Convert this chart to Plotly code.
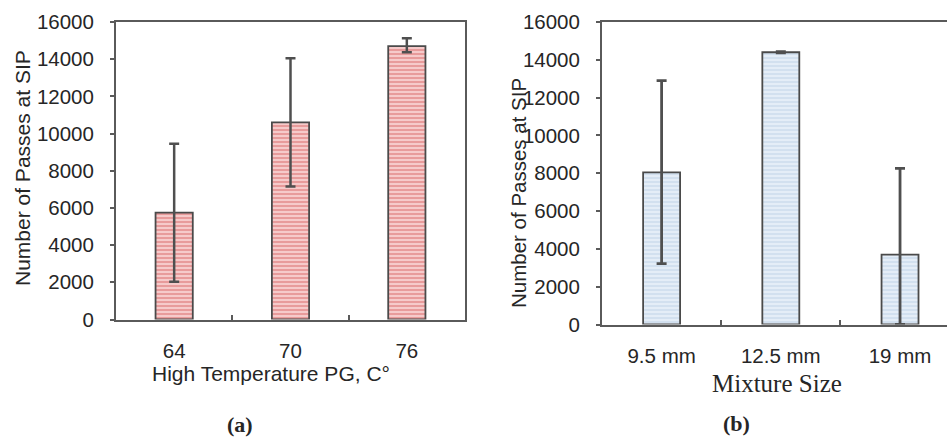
import plotly.graph_objects as go

# ---- data ----
pg_categories = ["64", "70", "76"]
pg_values = [5750, 10600, 14700]
pg_err_plus = [3700, 3450, 420]
pg_err_minus = [3720, 3450, 330]

mix_categories = ["9.5 mm", "12.5 mm", "19 mm"]
mix_values = [8050, 14400, 3700]
mix_err_plus = [4850, 30, 4560]
mix_err_minus = [4830, 30, 3700]

y_ticks = [0, 2000, 4000, 6000, 8000, 10000, 12000, 14000, 16000]
y_tick_labels = [str(v) for v in y_ticks]

W, H = 947, 439
AX = "#5a5a5a"
TXT = "#262626"
SANS = "Liberation Sans, Arial, sans-serif"
SERIF = "Liberation Serif, Times New Roman, serif"

fig = go.Figure()

fig.add_trace(go.Bar(
    x=pg_categories, y=pg_values, width=0.32,
    marker=dict(color="#e99d9d", line=dict(color="#4a4a4a", width=1.8),
                pattern=dict(shape="-", bgcolor="#e89b9b", fgcolor="#f8d0d0",
                             size=4, solidity=0.45, fillmode="replace")),
    error_y=dict(type="data", array=pg_err_plus, arrayminus=pg_err_minus,
                 color="#4f4f4f", thickness=2.5, width=5),
    xaxis="x", yaxis="y", showlegend=False))

fig.add_trace(go.Bar(
    x=mix_categories, y=mix_values, width=0.31,
    marker=dict(color="#d4e2f1", line=dict(color="#4a4a4a", width=1.8),
                pattern=dict(shape="-", bgcolor="#d2e0ef", fgcolor="#e9f1fa",
                             size=4, solidity=0.4, fillmode="replace")),
    error_y=dict(type="data", array=mix_err_plus, arrayminus=mix_err_minus,
                 color="#4f4f4f", thickness=2.8, width=5),
    xaxis="x2", yaxis="y2", showlegend=False))

tickfont = dict(family=SANS, size=20.5, color=TXT)

def px_x(p):
    return p / W

def px_y(p):
    return 1 - p / H

common_y = dict(range=[0, 16000], tickmode="array", tickvals=y_ticks, ticktext=y_tick_labels,
                showgrid=False, zeroline=False, automargin=False,
                showline=True, linecolor=AX, linewidth=2, ticks="outside", ticklen=4,
                tickwidth=1.5, tickcolor=AX,
                tickfont=tickfont, ticklabelstandoff=12)
common_x = dict(type="category", showgrid=False, zeroline=False, showline=True, automargin=False,
                linecolor=AX, linewidth=2, ticks="inside", tickson="boundaries",
                ticklen=5, tickwidth=2, tickcolor=AX, tickfont=tickfont,
                ticklabelstandoff=12)

fig.update_layout(
    width=W, height=H,
    margin=dict(l=0, r=0, t=0, b=0, autoexpand=False),
    paper_bgcolor="white", plot_bgcolor="white",
    xaxis=dict(domain=[px_x(116), px_x(465)], anchor="y", mirror=True,
               range=[-0.5, 2.5], **common_x),
    yaxis=dict(domain=[px_y(319.5), px_y(22)], anchor="x", mirror=True, **common_y),
    xaxis2=dict(domain=[px_x(602), 1.0], anchor="y2", mirror=True,
                range=[-0.5, 2.394], **common_x),
    yaxis2=dict(domain=[px_y(324.5), px_y(22)], anchor="x2", mirror=False, **common_y),
)

ann = []
ann.append(dict(text="Number of Passes at SIP", x=px_x(22), y=px_y(168), xref="paper", yref="paper",
                textangle=-90, showarrow=False, xanchor="center", yanchor="middle",
                font=dict(family=SANS, size=21, color=TXT)))
ann.append(dict(text="Number of Passes at SIP", x=px_x(518), y=px_y(193), xref="paper", yref="paper",
                textangle=-90, showarrow=False, xanchor="center", yanchor="middle",
                font=dict(family=SANS, size=20.5, color=TXT)))
ann.append(dict(text="High Temperature PG, C°", x=px_x(271), y=px_y(373), xref="paper", yref="paper",
                showarrow=False, xanchor="center", yanchor="middle",
                font=dict(family=SANS, size=21, color=TXT)))
ann.append(dict(text="Mixture Size", x=px_x(777), y=px_y(383), xref="paper", yref="paper",
                showarrow=False, xanchor="center", yanchor="middle",
                font=dict(family=SERIF, size=25, color=TXT)))
ann.append(dict(text="<b>(a)</b>", x=px_x(240.5), y=px_y(424), xref="paper", yref="paper",
                showarrow=False, xanchor="center", yanchor="middle",
                font=dict(family=SERIF, size=22, color=TXT)))
ann.append(dict(text="<b>(b)</b>", x=px_x(736.5), y=px_y(423), xref="paper", yref="paper",
                showarrow=False, xanchor="center", yanchor="middle",
                font=dict(family=SERIF, size=22, color=TXT)))
fig.update_layout(annotations=ann)

fig.write_html(
    "out.html",
    config={"displayModeBar": False},
    post_script="document.body.style.margin='0px';document.body.style.overflow='hidden';",
)
